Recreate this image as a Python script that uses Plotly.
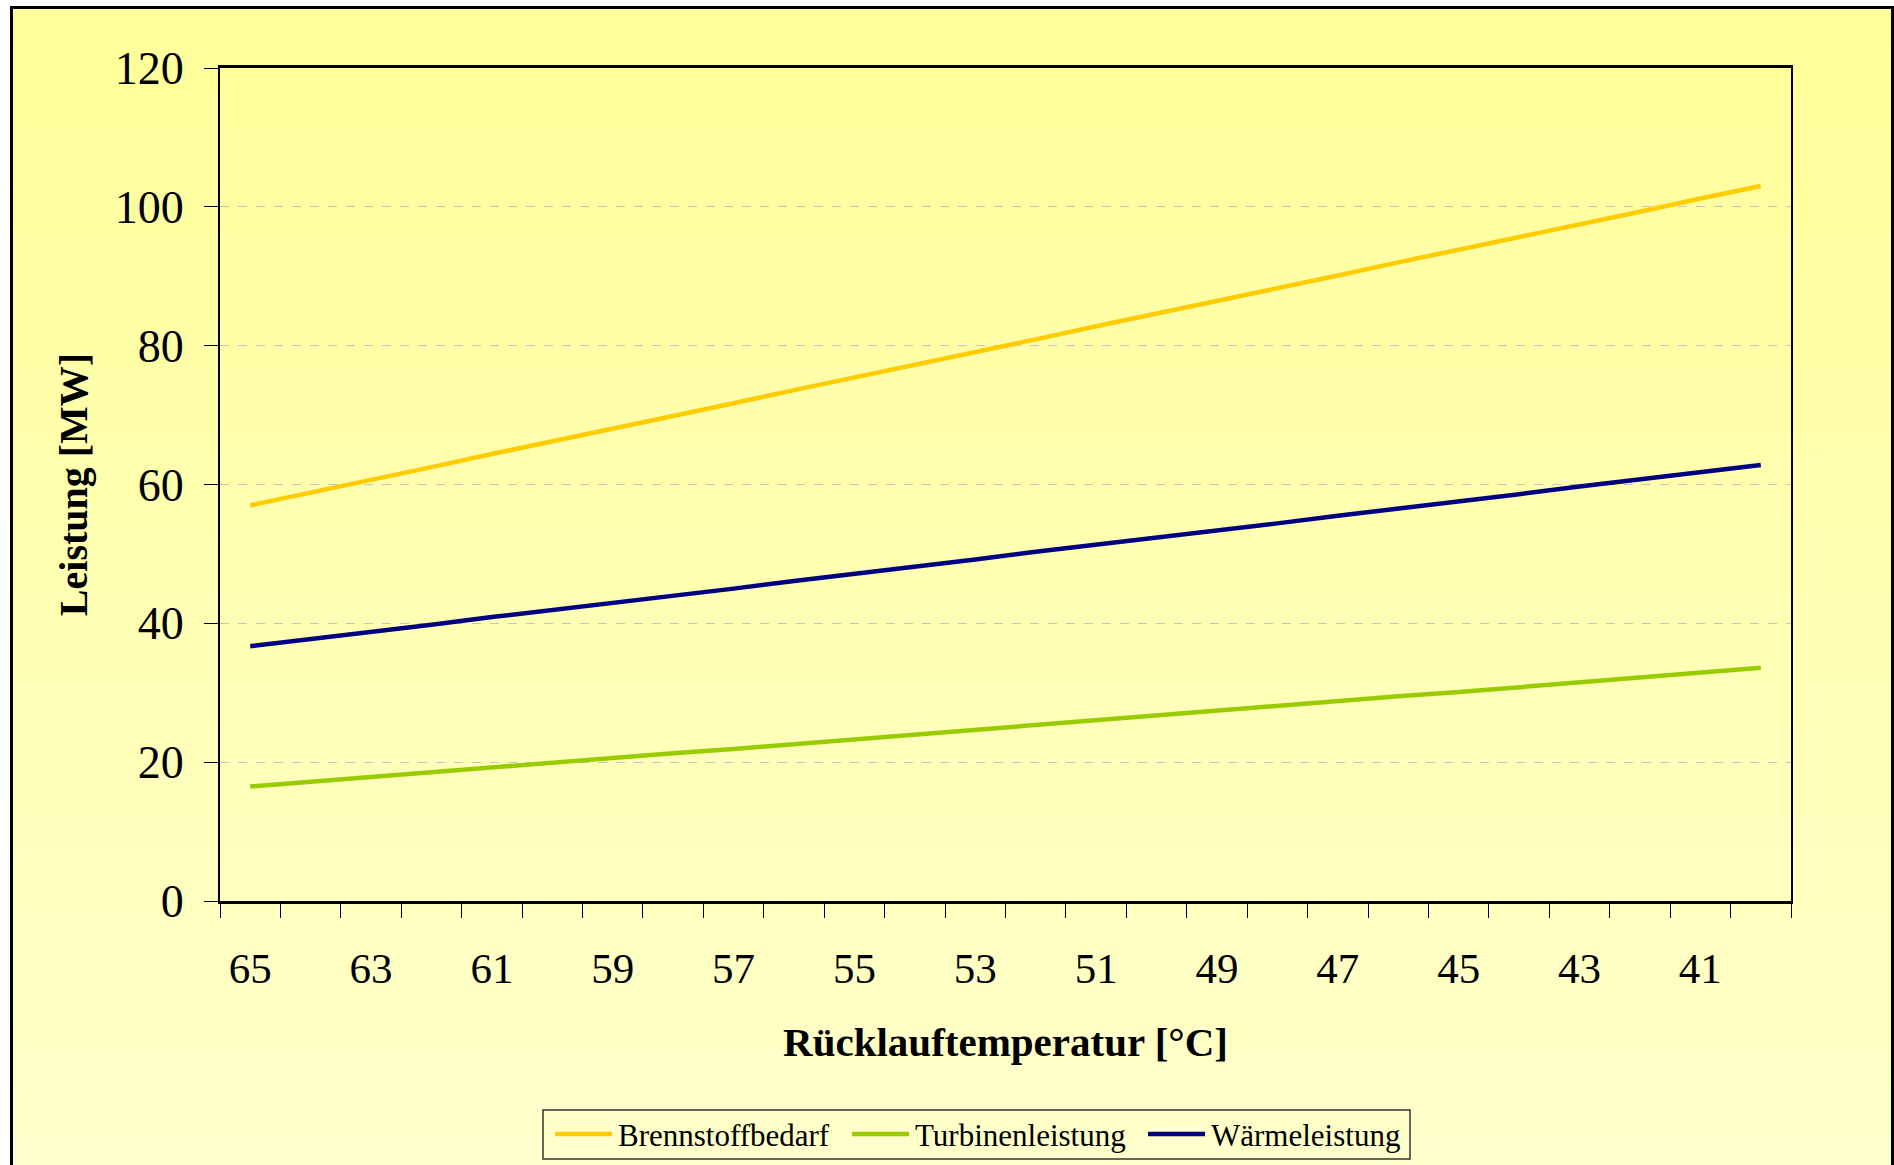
import plotly.graph_objects as go

# Return temperature categories (°C), plotted from high to low
temperatures = [65, 64, 63, 62, 61, 60, 59, 58, 57, 56, 55, 54, 53,
                52, 51, 50, 49, 48, 47, 46, 45, 44, 43, 42, 41, 40]

# Power values in MW
brennstoffbedarf = [57.0, 58.8, 60.7, 62.5, 64.4, 66.2, 68.0, 69.9, 71.7, 73.6,
                    75.4, 77.2, 79.1, 80.9, 82.8, 84.6, 86.4, 88.3, 90.1, 92.0,
                    93.8, 95.6, 97.5, 99.3, 101.2, 103.0]
turbinenleistung = [16.5, 17.2, 17.9, 18.5, 19.2, 19.9, 20.6, 21.3, 21.9, 22.6,
                    23.3, 24.0, 24.7, 25.4, 26.0, 26.7, 27.4, 28.1, 28.8, 29.5,
                    30.1, 30.8, 31.5, 32.2, 32.9, 33.6]
waermeleistung = [36.7, 37.7, 38.8, 39.8, 40.9, 41.9, 43.0, 44.0, 45.0, 46.1,
                  47.1, 48.2, 49.2, 50.3, 51.3, 52.4, 53.4, 54.4, 55.5, 56.5,
                  57.6, 58.6, 59.7, 60.7, 61.8, 62.8]

x_tick_labels = [65, 63, 61, 59, 57, 55, 53, 51, 49, 47, 45, 43, 41]
y_ticks = [0, 20, 40, 60, 80, 100, 120]

series_names = ["Brennstoffbedarf", "Turbinenleistung", "Wärmeleistung"]
series_values = [brennstoffbedarf, turbinenleistung, waermeleistung]
series_colors = ["#FFCC00", "#99CC00", "#000080"]

FONT = "Liberation Serif"
W, H = 1894, 1165
ML, MR, MT, MB = 220, 103, 68, 264
PW, PH = W - ML - MR, H - MT - MB


def px_x(X):
    return (X - ML) / PW


def px_y(Y):
    return (H - MB - Y) / PH


fig = go.Figure()
for name, values, color in zip(series_names, series_values, series_colors):
    fig.add_trace(go.Scatter(
        x=temperatures, y=values, name=name, mode="lines",
        line=dict(color=color, width=4.5),
    ))

# Vertical yellow gradient behind the whole chart, inside a black frame
shapes = []
top_y, bot_y = 7, H + 10
n_bands = 120
for i in range(n_bands):
    t = i / (n_bands - 1)
    b = round(153 + (204 - 153) * t)
    y0 = top_y + (bot_y - top_y) * i / n_bands
    y1 = top_y + (bot_y - top_y) * (i + 1) / n_bands + 1
    shapes.append(dict(
        type="rect", xref="paper", yref="paper", layer="below",
        x0=px_x(11), x1=px_x(W), y0=px_y(y1), y1=px_y(y0),
        fillcolor=f"rgb(255,255,{b})", line=dict(width=0),
    ))
shapes.append(dict(
    type="rect", xref="paper", yref="paper", layer="above",
    x0=px_x(11.5), x1=px_x(W - 1.5), y0=px_y(H + 10), y1=px_y(7.5),
    fillcolor="rgba(0,0,0,0)", line=dict(color="black", width=3),
))

# Legend box below the x-axis title: line sample followed by the series name
annotations = []
legend_box = (543, 1410, 1110, 1159)
legend_item_x = [555, 852, 1148]
legend_mid_y = 1134
sample_len = 57
shapes.append(dict(
    type="rect", xref="paper", yref="paper", layer="above",
    x0=px_x(legend_box[0]), x1=px_x(legend_box[1]),
    y0=px_y(legend_box[3]), y1=px_y(legend_box[2]),
    fillcolor="rgba(0,0,0,0)", line=dict(color="#333333", width=1.5),
))
for name, color, lx in zip(series_names, series_colors, legend_item_x):
    shapes.append(dict(
        type="line", xref="paper", yref="paper", layer="above",
        x0=px_x(lx), x1=px_x(lx + sample_len),
        y0=px_y(legend_mid_y), y1=px_y(legend_mid_y),
        line=dict(color=color, width=4.5),
    ))
    annotations.append(dict(
        xref="paper", yref="paper", showarrow=False,
        x=px_x(lx + sample_len + 4), y=px_y(legend_mid_y + 1),
        xanchor="left", yanchor="middle",
        text=name, font=dict(family=FONT, size=31, color="black"),
    ))

boundaries = [t + 0.5 for t in temperatures] + [temperatures[-1] - 0.5]

fig.update_layout(
    width=W, height=H,
    margin=dict(l=ML, r=MR, t=MT, b=MB, autoexpand=False),
    paper_bgcolor="white",
    plot_bgcolor="rgba(0,0,0,0)",
    font=dict(family=FONT, color="black"),
    shapes=shapes,
    annotations=annotations,
    showlegend=False,
    xaxis=dict(
        range=[temperatures[0] + 0.5, temperatures[-1] - 0.5],
        tickmode="array",
        tickvals=x_tick_labels,
        ticktext=[str(v) for v in x_tick_labels],
        ticks="outside", ticklen=14, tickcolor="rgba(0,0,0,0)",
        ticklabelstandoff=13,
        tickfont=dict(family=FONT, size=43, color="black"),
        minor=dict(
            tickmode="array", tickvals=boundaries,
            ticks="outside", ticklen=14, tickcolor="black", tickwidth=1,
            showgrid=False,
        ),
        showgrid=False, zeroline=False, automargin=False,
        showline=True, linecolor="black", linewidth=3, mirror=True,
        title=dict(
            text="<b>Rücklauftemperatur [°C]</b>",
            font=dict(family=FONT, size=41, color="black"),
            standoff=37,
        ),
    ),
    yaxis=dict(
        range=[0, 120],
        tickmode="array", tickvals=y_ticks,
        ticks="outside", ticklen=14, tickcolor="black", tickwidth=1,
        ticklabelstandoff=11,
        tickfont=dict(family=FONT, size=46, color="black"),
        showgrid=True, gridcolor="#C4C4C4", gridwidth=1, griddash="dash",
        zeroline=False, automargin=False,
        showline=True, linecolor="black", linewidth=2, mirror=True,
        title=dict(
            text="<b>Leistung [MW]</b>",
            font=dict(family=FONT, size=40, color="black"),
            standoff=15,
        ),
    ),
)

fig.write_html("out.html")
